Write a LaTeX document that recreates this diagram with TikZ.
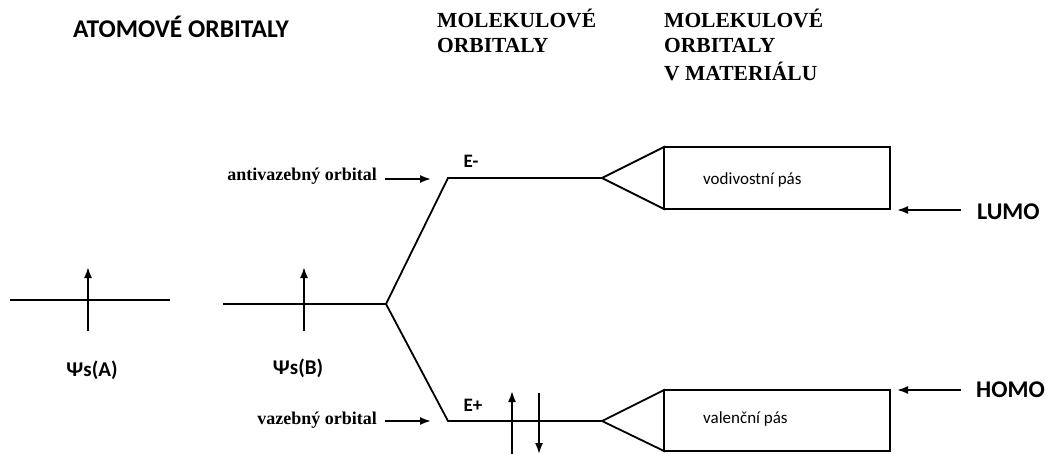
\documentclass[tikz,border=0pt]{standalone}
\usepackage{fontspec}
\setmainfont{Liberation Serif}
\newfontfamily\labelsans{Carlito}
\usetikzlibrary{arrows.meta}

\tikzset{
  level/.style={line width=1.8pt},
  spin/.style={line width=1.8pt, -{Latex[length=11pt,width=8pt]}},
  pointer/.style={line width=1.8pt, -{Latex[length=11pt,width=8pt]}},
  heading/.style={inner sep=0pt, anchor=base west, font=\fontsize{21.5}{25}\selectfont\bfseries, align=left},
  sansheading/.style={inner sep=0pt, anchor=base west, font=\labelsans\fontsize{25.5}{30}\selectfont\bfseries},
  sidelabel/.style={inner sep=0pt, anchor=east, font=\fontsize{18}{22}\selectfont\bfseries},
  orblabel/.style={inner sep=0pt, font=\labelsans\fontsize{21}{25}\selectfont\bfseries},
  energy/.style={inner sep=0pt, font=\labelsans\fontsize{19}{22}\selectfont\bfseries},
  bandtext/.style={inner sep=0pt, anchor=west, font=\labelsans\fontsize{17}{20}\selectfont},
  frontier/.style={inner sep=0pt, anchor=west, font=\labelsans\fontsize{24}{28}\selectfont\bfseries},
}

\begin{document}
\begin{tikzpicture}[x=1pt,y=-1pt]
\useasboundingbox (0,0) rectangle (1046,454);

% column headings
\node[sansheading] (hAtom) at (73,38) {ATOMOVÉ ORBITALY};
\node[heading] (hMol1) at (437,28) {MOLEKULOVÉ};
\node[heading] (hMol2) at (437,53) {ORBITALY};
\node[heading] (hMat1) at (664,28) {MOLEKULOVÉ};
\node[heading] (hMat2) at (664,53) {ORBITALY};
\node[heading] (hMat3) at (664,81) {V MATERIÁLU};

% atomic orbital A
\coordinate (aL) at (10,300);
\coordinate (aR) at (170,300);
\draw[level] (aL) -- (aR);
\coordinate (aS) at (88,331);
\coordinate (aE) at (88,267);
\draw[spin] (aS) -- (aE);
\node[orblabel] (psiA) at (92,370) {Ψs(A)};

% atomic orbital B and splitting point
\coordinate (bL) at (223,304);
\coordinate (split) at (386,304);
\draw[level] (bL) -- (split);
\coordinate (bS) at (304,331);
\coordinate (bE) at (304,267);
\draw[spin] (bS) -- (bE);
\node[orblabel] (psiB) at (298,368) {Ψs(B)};

% antibonding level E-
\coordinate (upK) at (448,178);
\coordinate (upT) at (602,178);
\draw[level] (split) -- (upK) -- (upT);
\node[energy] (eMinus) at (471,161) {E-};

% bonding level E+
\coordinate (loK) at (448,421);
\coordinate (loT) at (602,421);
\draw[level] (split) -- (loK) -- (loT);
\node[energy] (ePlus) at (473,405) {E+};

% paired electrons in the bonding level
\coordinate (e1S) at (512,456);
\coordinate (e1E) at (512,391);
\draw[spin] (e1S) -- (e1E);
\coordinate (e2S) at (539,393);
\coordinate (e2E) at (539,454);
\draw[spin] (e2S) -- (e2E);

% conduction band
\coordinate (cb1) at (664,147);
\coordinate (cb2) at (890,209);
\draw[level] (upT) -- (cb1) -- (cb1 |- cb2) -- cycle;
\draw[level] (cb1) rectangle (cb2);
\node[bandtext] (cbText) at (703,180) {vodivostní pás};

% valence band
\coordinate (vb1) at (664,390);
\coordinate (vb2) at (890,451);
\draw[level] (loT) -- (vb1) -- (vb1 |- vb2) -- cycle;
\draw[level] (vb1) rectangle (vb2);
\node[bandtext] (vbText) at (703,419) {valenční pás};

% side labels with pointers
\node[sidelabel] (anti) at (377,176) {antivazebný orbital};
\coordinate (antiTip) at (431,179);
\draw[pointer] ([xshift=8pt]anti.east |- antiTip) -- (antiTip);

\node[sidelabel] (vaz) at (377,420) {vazebný orbital};
\coordinate (vazTip) at (431,421);
\draw[pointer] ([xshift=8pt]vaz.east |- vazTip) -- (vazTip);

% frontier orbitals
\node[frontier] (lumo) at (977,212) {LUMO};
\coordinate (lumoTip) at (897,210);
\draw[pointer] ([xshift=-16pt]lumo.west |- lumoTip) -- (lumoTip);

\node[frontier] (homo) at (976,390) {HOMO};
\coordinate (homoTip) at (897,390);
\draw[pointer] ([xshift=-15pt]homo.west |- homoTip) -- (homoTip);
\end{tikzpicture}
\end{document}
